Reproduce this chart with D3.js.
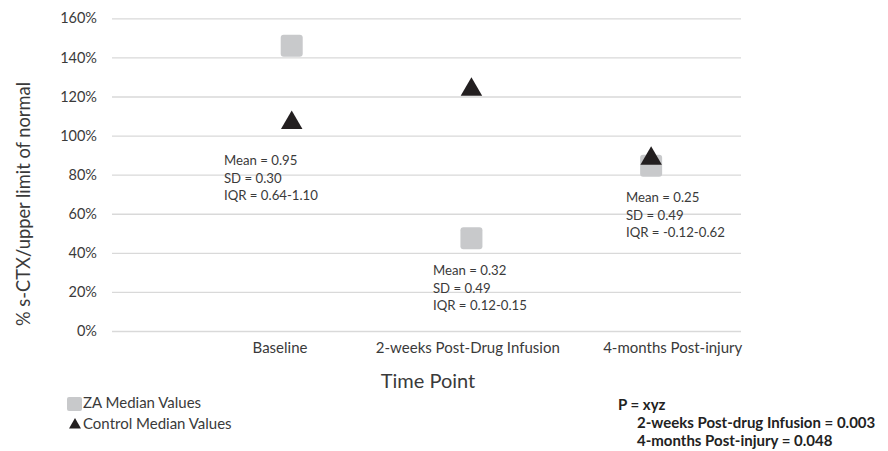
<!DOCTYPE html>
<html>
<head>
<meta charset="utf-8">
<script src="https://cdn.jsdelivr.net/npm/d3@7"></script>
<style>
  html, body { margin: 0; padding: 0; background: #fff; }
  svg { display: block; font-family: Lato, "Open Sans", sans-serif; }
</style>
</head>
<body>
<svg id="chart" width="888" height="451"></svg>
<script>
// ---- data ----
const categories = ["Baseline", "2-weeks Post-Drug Infusion", "4-months Post-injury"];
const categoryX = [1, 2, 3];
const categoryLabelX = [0.935, 1.98, 3.12];
const zaMedian = [146, 47.5, 84.5];
const controlMedian = [107, 124, 88.7];
const yTicks = [0, 20, 40, 60, 80, 100, 120, 140, 160];
const statsText = [
  ["Mean = 0.95", "SD = 0.30", "IQR = 0.64-1.10"],
  ["Mean = 0.32", "SD = 0.49", "IQR = 0.12-0.15"],
  ["Mean = 0.25", "SD = 0.49", "IQR = -0.12-0.62"]
];
const statsAnchor = [[0.623, 84.9], [1.786, 28.6], [2.86, 66]]; // [x, y-value] in data units
const legendLabels = ["ZA Median Values", "Control Median Values"];
const pLines = ["P = xyz", "2-weeks Post-drug Infusion = 0.003", "4-months Post-injury = 0.048"];

// ---- layout ----
const svg = d3.select("#chart");
const plot = { left: 112, right: 741, top: 18.3, bottom: 331 };
const x = d3.scaleLinear().domain([0, 3.5]).range([plot.left, plot.right]);
const y = d3.scaleLinear().domain([0, 160]).range([plot.bottom, plot.top]);
const textColor = "#3a3a3a";

// gridlines + y tick labels
const yAxis = d3.axisLeft(y).tickValues(yTicks).tickFormat(d => d + "%")
  .tickSize(-(plot.right - plot.left)).tickPadding(15);
const gy = svg.append("g").attr("transform", `translate(${plot.left},0)`).call(yAxis);
gy.select(".domain").remove();
gy.selectAll(".tick line").attr("stroke", "#d9d9d9").attr("stroke-width", 1.3);
gy.selectAll(".tick text").attr("fill", textColor).style("font-size", "14.5px")
  .style("font-family", "Lato, sans-serif");

// x category labels
svg.append("g").selectAll("text").data(categories).join("text")
  .attr("x", (d, i) => x(categoryLabelX[i]))
  .attr("y", 353)
  .attr("text-anchor", "middle")
  .attr("fill", textColor)
  .style("font-size", "15px")
  .text(d => d);

// axis titles
svg.append("text").attr("x", 428).attr("y", 388).attr("text-anchor", "middle")
  .attr("fill", textColor).style("font-size", "20px").text("Time Point");
svg.append("text").attr("transform", "translate(29.5,204) rotate(-90)")
  .attr("text-anchor", "middle").attr("fill", textColor).style("font-size", "18.3px")
  .text("% s-CTX/upper limit of normal");

// ZA squares
const sq = 22;
svg.append("g").selectAll("rect").data(zaMedian).join("rect")
  .attr("x", (d, i) => x(categoryX[i]) - sq / 2)
  .attr("y", d => y(d) - sq / 2)
  .attr("width", sq).attr("height", sq).attr("rx", 3)
  .attr("fill", "#c8c9cb");

// Control triangles
const tri = d3.symbol().type(d3.symbolTriangle).size(200);
svg.append("g").selectAll("path").data(controlMedian).join("path")
  .attr("d", tri)
  .attr("transform", (d, i) => `translate(${x(categoryX[i])},${y(d) + 1})`)
  .attr("fill", "#231f20");

// stats annotations
statsText.forEach((lines, i) => {
  const t = svg.append("text").attr("fill", textColor).style("font-size", "13.2px");
  lines.forEach((line, j) => {
    t.append("tspan").attr("x", x(statsAnchor[i][0])).attr("y", y(statsAnchor[i][1]) + j * 17.5)
      .text(line);
  });
});

// legend
const lg = svg.append("g");
lg.append("rect").attr("x", 67).attr("y", 397).attr("width", 15).attr("height", 14).attr("rx", 2)
  .attr("fill", "#c8c9cb");
lg.append("path").attr("d", d3.symbol().type(d3.symbolTriangle).size(62))
  .attr("transform", "translate(75,425)").attr("fill", "#231f20");
lg.selectAll("text").data(legendLabels).join("text")
  .attr("x", 83).attr("y", (d, i) => 408 + i * 21)
  .attr("fill", textColor).style("font-size", "15px").text(d => d);

// p values
const pg = svg.append("g").attr("fill", "#222").style("font-size", "15px").style("font-weight", "bold");
pg.selectAll("text").data(pLines).join("text")
  .attr("x", (d, i) => i === 0 ? 618 : 637)
  .attr("y", (d, i) => 410 + i * 18)
  .text(d => d);
</script>
</body>
</html>
